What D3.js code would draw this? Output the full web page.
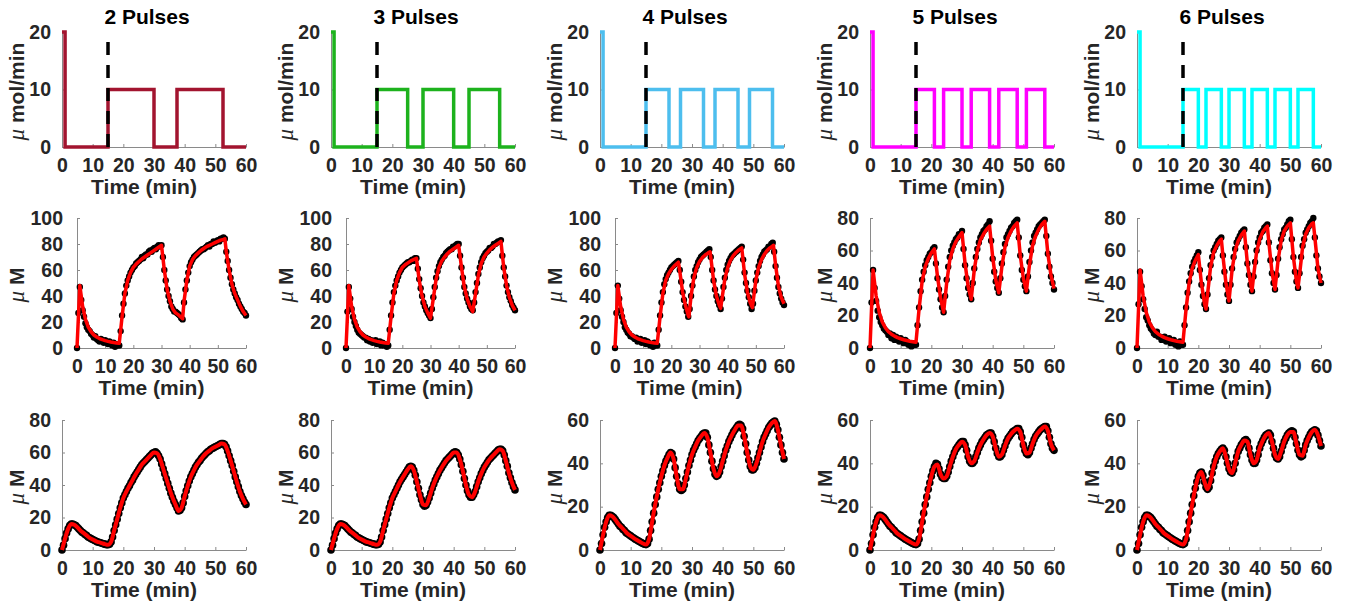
<!DOCTYPE html>
<html>
<head>
<meta charset="utf-8">
<script src="https://cdn.jsdelivr.net/npm/d3@7/dist/d3.min.js"></script>
<style>
  body { margin: 0; background: #ffffff; }
  svg text { font-family: "Liberation Sans", Arial, sans-serif; font-weight: bold; }
</style>
</head>
<body>
<div id="grafico"></div>
<script>
// Titles and axis ticks
const titles = ['2 Pulses', '3 Pulses', '4 Pulses', '5 Pulses', '6 Pulses'];
const timeTicks = [0, 10, 20, 30, 40, 50, 60];
const timeEnd = 60;
const topYTicks = [0, 10, 20];
const ticks100 = [0, 20, 40, 60, 80, 100];
const ticks80 = [0, 20, 40, 60, 80];
const ticks60 = [0, 20, 40, 60];

// Input: bolus of 20 during the first minute, then pulses of 10 (umol/min)
const bolusRate = 20;
const bolusEnd = 1;
const pulseRate = 10;
const markerTime = 15;
const pulses2 = [[15, 30], [37.5, 52.5]];
const pulses3 = [[15, 25], [30, 40], [45, 55]];
const pulses4 = [[15, 22.5], [26.25, 33.75], [37.5, 45], [48.75, 56.25]];
const pulses5 = [[15, 21], [24, 30], [33, 39], [42, 48], [51, 57]];
const pulses6 = [[15, 20], [22.5, 27.5], [30, 35], [37.5, 42.5], [45, 50], [52.5, 57.5]];

// Middle row: fitted curve [time, uM]
const fitMid2 = [[0,0],[1,48],[2,32],[3,22],[4,16],[5,12.5],[6,10],[7,8.5],[8,7.3],[9,6.4],[10,5.7],[11,5.1],[12,4.6],[13,4.2],[14,3.9],[15,3.6],[16,24],[17,42],[18,52],[19,58],[20,62],[21,64.5],[22,66.5],[23,68.5],[24,70],[25,71.5],[26,73],[27,74.5],[28,76],[29,77.5],[30,79],[31,60],[32,45],[33,36],[34,30],[35,27],[36,25.5],[37,23.5],[37.5,22.5],[38,36],[39,52],[40,63],[41,68],[42,71],[43,73],[44,75],[45,76.5],[46,78],[47,79],[48,80],[49,81],[50,82],[51,83],[52,83.5],[52.5,84],[53,74],[54,60],[55,49],[56,42],[57,37],[58,32],[59,28],[60,25]];
const fitMid3 = [[0,0],[1,48],[2,32],[3,22],[4,16],[5,12.5],[6,10],[7,8.5],[8,7.3],[9,6.4],[10,5.7],[11,5.1],[12,4.6],[13,4.2],[14,3.9],[15,3.6],[16,24],[17,42],[18,52],[19,58],[20,62],[21,64],[22,65.5],[23,67],[24,68],[25,69],[26,52],[27,40],[28,32],[29,27],[30,23],[31,38],[32,53],[33,62],[34,67],[35,70],[36,72.5],[37,74.5],[38,76],[39,77.5],[40,79],[41,62],[42,47],[43,38],[44,32],[45,28],[46,42],[47,56],[48,65],[49,70],[50,73],[51,75.5],[52,77.5],[53,79],[54,80.5],[55,82],[56,62],[57,48],[58,39],[59,33],[60,29]];
const fitMid4 = [[0,0],[1,48],[2,32],[3,22],[4,16],[5,12.5],[6,10],[7,8.5],[8,7.3],[9,6.4],[10,5.7],[11,5.1],[12,4.6],[13,4.2],[14,3.9],[15,3.6],[16,24],[17,42],[18,52],[19,57],[20,60.5],[21,63],[22,65],[22.5,66],[23,59],[24,43],[25,33],[26,25],[26.25,24],[27,40],[28,54],[29,62],[30,66.5],[31,69.5],[32,71.5],[33,73],[33.75,74],[34,70],[35,52],[36,40],[37,33],[37.5,30.5],[38,38],[39,53],[40,62],[41,67.5],[42,71],[43,73.5],[44,75.5],[45,77],[46,57],[47,43],[48,35],[48.75,31],[49,35],[50,52],[51,62],[52,68],[53,72],[54,75],[55,77],[56,78.5],[56.25,79],[57,64],[58,48],[59,39],[60,34]];
const fitMid5 = [[0,0],[1,48],[2,32],[3,22],[4,16],[5,12.5],[6,10],[7,8.5],[8,7.3],[9,6.4],[10,5.7],[11,5.1],[12,4.6],[13,4.2],[14,3.9],[15,3.6],[16,24],[17,41],[18,50],[19,55],[20,58.5],[21,61],[22,44],[23,31],[24,22],[25,40],[26,54],[27,61],[28,65.5],[29,68.5],[30,71],[31,52],[32,38],[33,30],[34,48],[35,60],[36,66.5],[37,70],[38,73],[39,75],[40,56],[41,42],[42,34],[43,50],[44,62],[45,68],[46,72],[47,75],[48,77],[49,57],[50,43],[51,35],[52,51],[53,63],[54,69],[55,73],[56,76],[57,78],[58,58],[59,45],[60,36.5]];
const fitMid6 = [[0,0],[1,48],[2,32],[3,22],[4,16],[5,12.5],[6,10],[7,8.5],[8,7.3],[9,6.4],[10,5.7],[11,5.1],[12,4.6],[13,4.2],[14,3.9],[15,3.6],[16,24],[17,40],[18,49],[19,54],[20,57.5],[21,40],[22,27.5],[22.5,24],[23,33],[24,50],[25,59],[26,63],[27,66],[27.5,67],[28,57],[29,40],[30,29],[31,48],[32,60],[33,66],[34,69.5],[35,72],[36,52],[37,40],[37.5,35],[38,44],[39,59],[40,67],[41,71.5],[42,74],[42.5,75],[43,65],[44,47],[45,36],[46,54],[47,66],[48,72],[49,75],[50,77],[51,56],[52,41],[52.5,37],[53,45],[54,62],[55,70],[56,74],[57,76.5],[57.5,77],[58,68],[59,49],[60,40]];

// Middle row: measured points, one every half minute from t = 0
const dotStep = 0.5;
const dotsMid2 = [0,27,47,37,29,24,19,16,14,13,11,10,8,9,7,6,5,7,6,4,6,5,3,5,4,2,4,1,3,2,2,
  13,25,34,42,48,52,55,58,60,62,63,65,66,67,68,70,69,71,72,72,74,75,74,76,77,76,78,79,78,79,
  70,60,52,45,40,36,32,30,28,28,27,26,25,23,22,
  35,45,52,58,63,66,68,70,71,72,73,74,75,76,76,77,78,79,78,80,80,82,81,82,83,82,84,84,85,84,
  74,67,60,54,49,45,42,39,37,34,32,30,28,27,25];
const dotsMid3 = [0,28,47,38,30,24,20,17,14,12,11,10,9,8,8,6,7,5,6,4,5,6,3,4,5,2,4,2,3,1,2,
  14,25,35,43,48,52,55,58,60,62,63,64,65,66,66,67,68,67,69,69,
  61,53,46,40,35,32,29,27,25,23,
  30,39,47,54,59,63,66,68,70,71,73,74,75,76,76,78,78,79,80,80,
  71,62,54,47,42,38,35,32,30,29,
  35,43,50,57,62,66,69,71,73,74,75,77,77,78,80,80,81,82,82,83,
  71,62,55,48,43,39,36,33,31,29];
const dotsMid4 = [0,27,48,38,29,24,20,16,14,12,11,9,9,8,7,8,5,6,7,4,5,6,3,5,4,2,3,1,4,2,2,
  14,25,35,43,49,53,56,58,60,62,63,64,65,66,67,
  60,51,43,37,32,28,24,
  30,40,48,55,60,63,66,68,70,71,72,73,74,75,76,
  70,60,52,45,40,36,33,30,
  38,47,54,60,64,67,69,71,72,73,74,75,76,77,78,
  68,58,50,44,39,34,30,
  34,44,52,58,63,67,70,72,74,75,76,78,78,80,81,
  74,63,54,47,42,38,35,33];
const dotsMid5 = [0,28,48,37,29,23,19,16,14,12,11,10,8,9,6,8,5,7,6,4,6,5,3,5,4,2,3,1,3,2,2,
  14,25,35,42,47,51,54,56,58,59,61,62,
  52,43,36,30,25,22,
  32,42,50,56,60,63,65,67,68,70,70,72,
  61,51,43,37,33,30,
  40,49,56,61,65,68,70,72,73,75,76,78,
  66,55,47,41,37,34,
  43,52,59,64,68,70,72,74,75,77,78,79,
  68,57,48,42,38,35,
  44,53,60,65,69,71,73,75,76,77,78,79,
  69,58,50,44,40,36];
const dotsMid6 = [0,27,47,38,30,24,19,17,14,12,11,9,8,10,7,7,5,6,7,4,5,6,3,4,5,2,3,1,4,2,2,
  14,25,34,41,46,50,53,55,57,59,
  48,39,32,27,24,
  33,43,51,56,60,62,64,66,67,68,
  57,47,39,33,29,
  39,49,56,61,65,67,69,71,72,73,
  62,52,45,39,35,
  44,53,60,65,68,71,72,74,75,76,
  65,54,46,40,36,
  45,55,62,67,70,73,74,76,78,79,
  67,56,47,41,37,
  46,56,63,67,71,73,75,77,78,80,
  68,57,49,44,40];

// Bottom row: fitted curve, one value per minute from t = 0
const fitStep = 1;
const fitBot2 = [0,7,13,16,15.5,14,12,10.5,9,7.5,6.5,5.5,4.8,4.2,3.6,3.2,5,12,19,26,32,36,39.5,43,46.5,49.5,52.5,54.5,56.5,58.5,60,59.5,56,50,44,38,32.5,28,24,26,33,39.5,45,49,52.5,55,57.5,59.5,61,62.5,63.5,64.5,65.5,65,61,55,48.5,42,36,31.5,28];
const fitBot3 = [0,7,13,16,15.5,14,12,10.5,9,7.5,6.5,5.5,4.8,4.2,3.6,3.2,5,12,19,26,32,36,40,43.5,46.5,49.5,51.5,49,42,34,28,27.5,32,38,43,47,50.5,53.5,56,58,60,60,56,48.5,40,34,32.5,36,42,47,51,54,56.5,58.5,60.5,62,61,55,47.5,41.5,37];
const fitBot4 = [0,7,13,16,15.5,14,12,10.5,9,7.5,6.5,5.5,4.6,3.8,3,2.5,5,13,21,28,34,39,42.5,45,42,34,28,28,33,39,44,47.5,50.5,52.5,54,52,45,37.5,34,36,41,46,50,53,55.5,57.5,57.5,52.5,45,38.5,37,40,45,50,53.5,56.5,58.5,59.5,55.5,48.5,42];
const fitBot5 = [0,7,13,16,15.5,14,12,10.5,9,7.5,6.5,5.5,4.6,3.8,3,2.5,5,13,21,28,34,38.5,39.5,35,33,34,38.5,43,46.5,48.5,50,48.5,43,40,41,45,48.5,51,53,54,52.5,47,43,44,48,51.5,53.5,55,56,54.5,48.5,44.5,45,49,52.5,54.5,56,57,55,49,46];
const fitBot6 = [0,7,13,16,15.5,14,12,10.5,9,7.5,6.5,5.5,4.6,3.8,3,2.5,5,13,21,28.5,34,36,31.5,28,32,38.5,43,45.5,47,43,37.5,35.5,40,45.5,48.5,50.5,50,44,40,41.5,47,50.5,53,54,50,44,42,45.5,50,53,54.5,54.5,49,44,43.5,48.5,52,54.5,55.5,53,48];

// Bottom row: measured points, one every half minute from t = 0
const dotsBot2 = [0,3,7,10.5,13,15,16,16,15.5,15,14,13,12,11,10.5,9.5,9,8,7.5,7,6.5,6,5.5,5,4.8,4.5,4.2,3.8,3.6,3.3,3.2,
  3.5,5,8,12,15.5,19,22.5,26,29,32,34,36,38,39.5,41.5,43,45,46.5,48,49.5,51,52.5,53.5,54.5,55.5,56.5,57.5,58.5,59.5,60,
  60.5,59.5,58,56,53,50,47,44,41,38,35,32.5,30,28,26,24,
  24.5,26,29,33,36.5,39.5,42.5,45,47,49,51,52.5,54,55,56.5,57.5,58.5,59.5,60.5,61,62,62.5,63,63.5,64,64.5,65,65.5,65.5,
  65,63.5,61,58,55,52,48.5,45,42,39,36,33.5,31.5,29.5,28];
const dotsBot3 = [0,3,7,10.5,13,15,16,16,15.5,15,14,13,12,11,10.5,9.5,9,8,7.5,7,6.5,6,5.5,5,4.8,4.5,4.2,3.8,3.6,3.3,3.2,
  3.5,5,8,12,15.5,19,22.5,26,29,32,34,36,38,40,42,43.5,45,46.5,48,49.5,
  51,51.5,51,49,46,42,38,34,31,28,
  27,27.5,29.5,32,35,38,40.5,43,45,47,49,50.5,52,53.5,55,56,57,58,59,60,
  60.5,60,58.5,56,52.5,48.5,44,40,36.5,34,
  32.5,32.5,34,36,39,42,44.5,47,49,51,52.5,54,55.5,56.5,57.5,58.5,59.5,60.5,61.5,62,
  62,61,58.5,55,51.5,47.5,44.5,41.5,39,37];
const dotsBot4 = [0,3,7,10.5,13,15,16,16,15.5,15,14,13,12,11,10.5,9.5,9,8,7.5,7,6.5,6,5.5,5,4.6,4.2,3.8,3.4,3,2.7,2.5,
  3,5,9,13,17,21,24.5,28,31,34,36.5,39,41,42.5,44,
  45,44.5,42,38,34,30.5,28,27.5,
  28,30,33,36,39,41.5,44,46,47.5,49,50.5,51.5,52.5,53.5,54,
  54,52,48.5,45,41,37.5,35,34,
  34.5,36,38.5,41,43.5,46,48,50,51.5,53,54.5,55.5,56.5,57.5,58,
  57.5,56,52.5,49,45,41.5,38.5,37,
  37,38,40,42.5,45,47.5,50,52,53.5,55,56.5,57.5,58.5,59,59.5,
  58,55.5,52,48.5,45,42];
const dotsBot5 = [0,3,7,10.5,13,15,16,16,15.5,15,14,13,12,11,10.5,9.5,9,8,7.5,7,6.5,6,5.5,5,4.6,4.2,3.8,3.4,3,2.7,2.5,
  3,5,9,13,17,21,24.5,28,31,34,36.5,38.5,
  40,39.5,37.5,35,33.5,33,
  33,34,36,38.5,41,43,45,46.5,47.5,48.5,49.5,50,
  50,48.5,46,43,41,40,
  40,41,43,45,47,48.5,50,51,52,53,53.5,54,
  54,52.5,50,47,44.5,43,
  43,44,46,48,50,51.5,52.5,53.5,54.5,55,55.5,56,
  56,54.5,52,48.5,46,44.5,
  44,45,47,49,51,52.5,53.5,54.5,55.5,56,56.5,57,
  57,55,52,49,47,46];
const dotsBot6 = [0,3,7,10.5,13,15,16,16,15.5,15,14,13,12,11,10.5,9.5,9,8,7.5,7,6.5,6,5.5,5,4.6,4.2,3.8,3.4,3,2.7,2.5,
  3,5,9,13,17,21,25,28.5,31.5,34,
  35.5,36,34.5,31.5,29,
  28,29,32,35.5,38.5,41,43,44.5,45.5,46.5,
  47,46,43,40,37.5,
  36,35.5,37,40,43,45.5,47,48.5,49.5,50.5,
  51,50,47,44,41.5,
  40,40,41.5,44,47,49,50.5,52,53,53.5,
  54,53,50,47,44,
  42.5,42,43,45.5,48,50,51.5,53,54,54.5,
  55,54.5,52,49,46,
  44,43,43.5,46,48.5,50.5,52,53.5,54.5,55,
  55.5,55,53,50.5,48];

document.addEventListener('DOMContentLoaded', function() {
    const pulseWindows = [pulses2, pulses3, pulses4, pulses5, pulses6];
    const fitsMid = [fitMid2, fitMid3, fitMid4, fitMid5, fitMid6];
    const dotsMid = [dotsMid2, dotsMid3, dotsMid4, dotsMid5, dotsMid6];
    const fitsBot = [fitBot2, fitBot3, fitBot4, fitBot5, fitBot6];
    const dotsBot = [dotsBot2, dotsBot3, dotsBot4, dotsBot5, dotsBot6];
    const midYTicks = [ticks100, ticks100, ticks100, ticks80, ticks80];
    const botYTicks = [ticks80, ticks80, ticks60, ticks60, ticks60];

    // Layout and styles
    const largura = 1348;
    const altura = 610;
    const pulseColors = ['#A2142F', '#1DB21D', '#4DBEEE', '#FF00FF', '#00FFFF'];
    const axisColor = '#8a8a8a';
    const textColor = '#262626';
    const colRight = [246, 515, 784, 1054, 1321];
    const rowTop = { y0: 147, y1: 32 };
    const rowMid = { y0: 348, y1: 218 };
    const rowBot = { y0: 550, y1: 420 };

    const svg = d3.select('#grafico')
                  .append('svg')
                  .attr('width', largura)
                  .attr('height', altura);

    // One small set of axes
    function makePanel(col, row, yTicks, yLabel) {
        const yMax = yTicks[yTicks.length - 1];
        const wide = yMax >= 100;
        const right = colRight[col];
        const left = right - (wide ? 169 : 184);
        const x = d3.scaleLinear().domain([0, timeEnd]).range([left, right]);
        const y = d3.scaleLinear().domain([0, yMax]).range([row.y0, row.y1]);
        const g = svg.append('g');

        const gx = g.append('g')
                    .attr('transform', `translate(0, ${row.y0})`)
                    .call(d3.axisBottom(x).tickValues(timeTicks).tickSize(-3).tickSizeOuter(0).tickPadding(11));
        const gy = g.append('g')
                    .attr('transform', `translate(${left}, 0)`)
                    .call(d3.axisLeft(y).tickValues(yTicks).tickSize(-3).tickSizeOuter(0).tickPadding(wide ? 14 : 11));
        [gx, gy].forEach(a => {
            a.attr('font-family', null).attr('font-size', null);
            a.select('.domain').attr('stroke', axisColor);
            a.selectAll('.tick line').attr('stroke', axisColor);
            a.selectAll('.tick text').attr('fill', textColor).style('font-size', '19.5px');
        });

        g.append('text')
         .attr('x', (left + right) / 2 - 10)
         .attr('y', row.y0 + 47)
         .attr('text-anchor', 'middle')
         .attr('fill', textColor)
         .style('font-size', '21px')
         .text('Time (min)');

        const lab = g.append('text')
                     .attr('transform', `translate(${left - (wide ? 60 : 45) + 7}, ${(row.y0 + row.y1) / 2 + 2}) rotate(-90)`)
                     .attr('text-anchor', 'middle')
                     .attr('fill', textColor)
                     .style('font-size', '21px');
        lab.append('tspan')
           .style('font-family', '"Liberation Serif", serif')
           .style('font-style', 'italic')
           .style('font-weight', 'normal')
           .style('font-size', '23px')
           .text('μ');
        lab.append('tspan').text(' ' + yLabel);

        return { g, x, y, left, right };
    }

    // Top row: input profiles
    titles.forEach((title, i) => {
        const p = makePanel(i, rowTop, topYTicks, 'mol/min');
        const steps = [[0, bolusRate], [bolusEnd, bolusRate], [bolusEnd, 0]];
        pulseWindows[i].forEach(w => {
            steps.push([w[0], 0], [w[0], pulseRate], [w[1], pulseRate], [w[1], 0]);
        });
        steps.push([timeEnd, 0]);

        p.g.append('path')
           .datum(steps)
           .attr('fill', 'none')
           .attr('stroke', pulseColors[i])
           .attr('stroke-width', 3.5)
           .attr('d', d3.line().x(d => p.x(d[0])).y(d => p.y(d[1])));

        p.g.append('line')
           .attr('x1', p.x(markerTime)).attr('x2', p.x(markerTime))
           .attr('y1', p.y(0)).attr('y2', p.y(topYTicks[topYTicks.length - 1]))
           .attr('stroke', '#000')
           .attr('stroke-width', 3.5)
           .attr('stroke-dasharray', '13,10');

        p.g.append('text')
           .attr('x', (p.left + p.right) / 2 - 7)
           .attr('y', 24)
           .attr('text-anchor', 'middle')
           .attr('fill', '#000')
           .style('font-size', '21px')
           .text(title);
    });

    // Middle row: data points and fit
    fitsMid.forEach((fit, i) => {
        const p = makePanel(i, rowMid, midYTicks[i], 'M');
        p.g.append('g')
           .selectAll('circle')
           .data(dotsMid[i])
           .join('circle')
           .attr('cx', (d, k) => p.x(k * dotStep))
           .attr('cy', d => p.y(d))
           .attr('r', 3.2)
           .attr('fill', '#000');
        p.g.append('path')
           .datum(fit)
           .attr('fill', 'none')
           .attr('stroke', '#ff0000')
           .attr('stroke-width', 3.5)
           .attr('stroke-linejoin', 'round')
           .attr('d', d3.line().x(d => p.x(d[0])).y(d => p.y(d[1])));
    });

    // Bottom row: data points and fit
    fitsBot.forEach((fit, i) => {
        const p = makePanel(i, rowBot, botYTicks[i], 'M');
        p.g.append('g')
           .selectAll('circle')
           .data(dotsBot[i])
           .join('circle')
           .attr('cx', (d, k) => p.x(k * dotStep))
           .attr('cy', d => p.y(d))
           .attr('r', 3.8)
           .attr('fill', '#000');
        p.g.append('path')
           .datum(fit)
           .attr('fill', 'none')
           .attr('stroke', '#ff0000')
           .attr('stroke-width', 4)
           .attr('stroke-linejoin', 'round')
           .attr('d', d3.line().x((d, k) => p.x(k * fitStep)).y(d => p.y(d)).curve(d3.curveMonotoneX));
    });
});
</script>
</body>
</html>
